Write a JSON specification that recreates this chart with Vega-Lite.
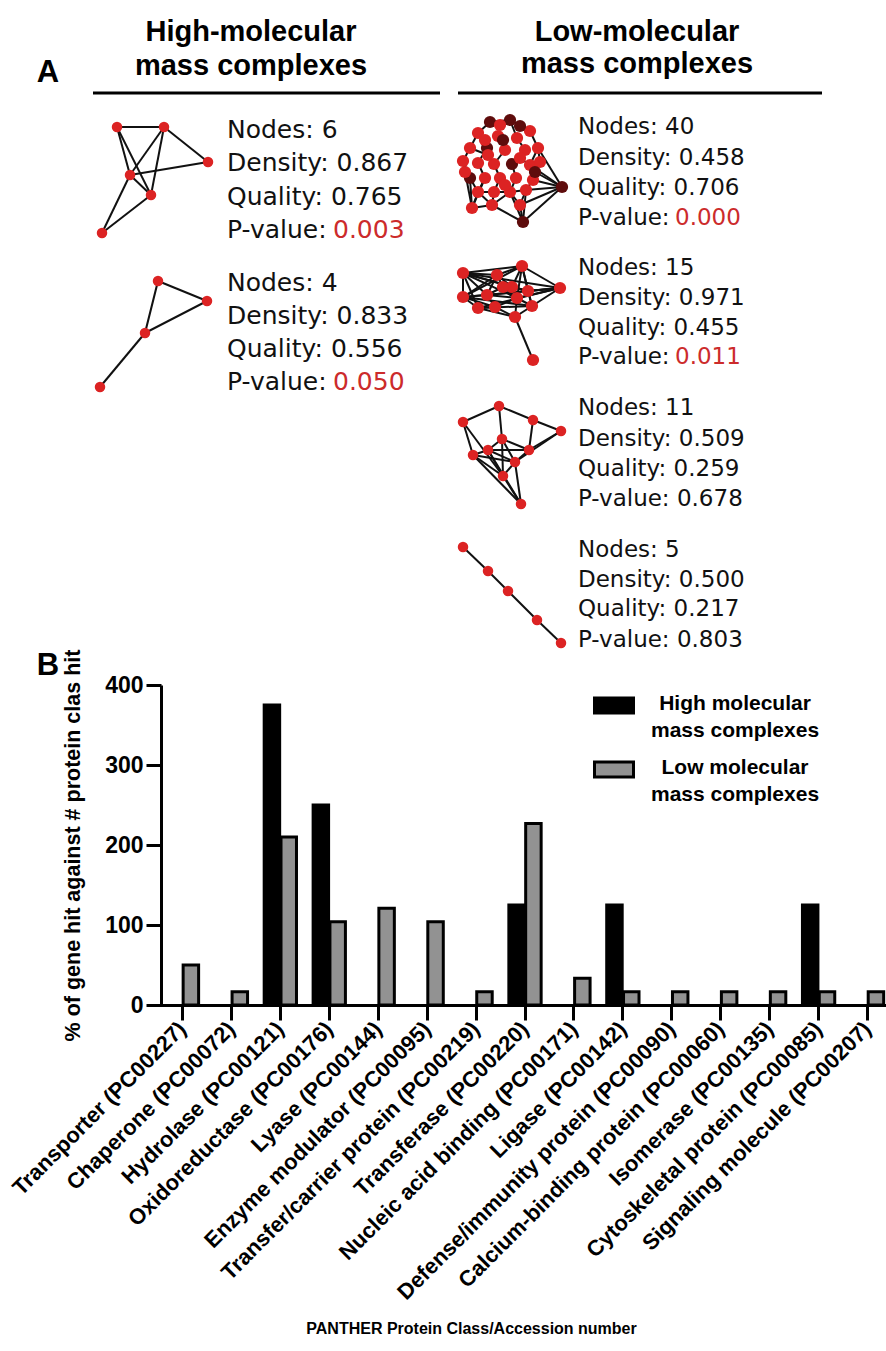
{
  "$schema": "https://vega.github.io/schema/vega-lite/v6.json",
  "width": 886,
  "height": 1351,
  "autosize": {"type": "none"},
  "padding": 0,
  "background": "white",
  "config": {
    "view": {"stroke": null},
    "font": "Liberation Sans",
    "style": {"guide-label": {"lineHeight": 27}}
  },
  "datasets": {
    "letters": [
      {"t": "A", "x": 48, "y": 73},
      {"t": "B", "x": 48, "y": 666}
    ],
    "heads": [
      {"t": "High-molecular", "x": 251, "y": 32},
      {"t": "mass complexes", "x": 251, "y": 66},
      {"t": "Low-molecular", "x": 637, "y": 32},
      {"t": "mass complexes", "x": 637, "y": 64}
    ],
    "underlines": [
      {"x1": 93, "x2": 440, "y": 93},
      {"x1": 458, "x2": 822, "y": 93}
    ],
    "stats": [
      {"col": "H", "x": 227, "y": 130, "line": "Nodes: 6", "lab": "Nodes:", "val": "6", "red": false},
      {"col": "H", "x": 227, "y": 163, "line": "Density: 0.867", "lab": "Density:", "val": "0.867", "red": false},
      {"col": "H", "x": 227, "y": 197, "line": "Quality: 0.765", "lab": "Quality:", "val": "0.765", "red": false},
      {"col": "H", "x": 227, "y": 230, "line": "P-value: 0.003", "lab": "P-value:", "val": "0.003", "red": true},
      {"col": "H", "x": 227, "y": 283, "line": "Nodes: 4", "lab": "Nodes:", "val": "4", "red": false},
      {"col": "H", "x": 227, "y": 316, "line": "Density: 0.833", "lab": "Density:", "val": "0.833", "red": false},
      {"col": "H", "x": 227, "y": 349, "line": "Quality: 0.556", "lab": "Quality:", "val": "0.556", "red": false},
      {"col": "H", "x": 227, "y": 382, "line": "P-value: 0.050", "lab": "P-value:", "val": "0.050", "red": true},
      {"col": "L", "x": 578, "y": 127, "line": "Nodes: 40", "lab": "Nodes:", "val": "40", "red": false},
      {"col": "L", "x": 578, "y": 158, "line": "Density: 0.458", "lab": "Density:", "val": "0.458", "red": false},
      {"col": "L", "x": 578, "y": 188, "line": "Quality: 0.706", "lab": "Quality:", "val": "0.706", "red": false},
      {"col": "L", "x": 578, "y": 218, "line": "P-value: 0.000", "lab": "P-value:", "val": "0.000", "red": true},
      {"col": "L", "x": 578, "y": 268, "line": "Nodes: 15", "lab": "Nodes:", "val": "15", "red": false},
      {"col": "L", "x": 578, "y": 298, "line": "Density: 0.971", "lab": "Density:", "val": "0.971", "red": false},
      {"col": "L", "x": 578, "y": 328, "line": "Quality: 0.455", "lab": "Quality:", "val": "0.455", "red": false},
      {"col": "L", "x": 578, "y": 357, "line": "P-value: 0.011", "lab": "P-value:", "val": "0.011", "red": true},
      {"col": "L", "x": 578, "y": 408, "line": "Nodes: 11", "lab": "Nodes:", "val": "11", "red": false},
      {"col": "L", "x": 578, "y": 439, "line": "Density: 0.509", "lab": "Density:", "val": "0.509", "red": false},
      {"col": "L", "x": 578, "y": 469, "line": "Quality: 0.259", "lab": "Quality:", "val": "0.259", "red": false},
      {"col": "L", "x": 578, "y": 499, "line": "P-value: 0.678", "lab": "P-value:", "val": "0.678", "red": false},
      {"col": "L", "x": 578, "y": 550, "line": "Nodes: 5", "lab": "Nodes:", "val": "5", "red": false},
      {"col": "L", "x": 578, "y": 580, "line": "Density: 0.500", "lab": "Density:", "val": "0.500", "red": false},
      {"col": "L", "x": 578, "y": 609, "line": "Quality: 0.217", "lab": "Quality:", "val": "0.217", "red": false},
      {"col": "L", "x": 578, "y": 640, "line": "P-value: 0.803", "lab": "P-value:", "val": "0.803", "red": false}
    ],
    "nodes": [
      {"id": "h1a", "g": "small", "x": 117, "y": 127, "tone": "r"},
      {"id": "h1b", "g": "small", "x": 164, "y": 127, "tone": "r"},
      {"id": "h1c", "g": "small", "x": 208, "y": 162, "tone": "r"},
      {"id": "h1d", "g": "small", "x": 130, "y": 175, "tone": "r"},
      {"id": "h1e", "g": "small", "x": 151, "y": 195, "tone": "r"},
      {"id": "h1f", "g": "small", "x": 102, "y": 233, "tone": "r"},
      {"id": "h2a", "g": "small", "x": 158, "y": 281, "tone": "r"},
      {"id": "h2b", "g": "small", "x": 207, "y": 301, "tone": "r"},
      {"id": "h2c", "g": "small", "x": 145, "y": 333, "tone": "r"},
      {"id": "h2d", "g": "small", "x": 100, "y": 387, "tone": "r"},
      {"id": "p1", "g": "dense", "x": 490, "y": 122, "tone": "d"},
      {"id": "p2", "g": "dense", "x": 510, "y": 120, "tone": "d"},
      {"id": "p3", "g": "dense", "x": 530, "y": 131, "tone": "r"},
      {"id": "p4", "g": "dense", "x": 478, "y": 133, "tone": "r"},
      {"id": "p5", "g": "dense", "x": 498, "y": 136, "tone": "r"},
      {"id": "p6", "g": "dense", "x": 517, "y": 138, "tone": "r"},
      {"id": "p7", "g": "dense", "x": 470, "y": 148, "tone": "r"},
      {"id": "p8", "g": "dense", "x": 487, "y": 148, "tone": "d"},
      {"id": "p9", "g": "dense", "x": 505, "y": 150, "tone": "r"},
      {"id": "p10", "g": "dense", "x": 525, "y": 150, "tone": "r"},
      {"id": "p11", "g": "dense", "x": 538, "y": 148, "tone": "r"},
      {"id": "p12", "g": "dense", "x": 463, "y": 161, "tone": "r"},
      {"id": "p13", "g": "dense", "x": 478, "y": 163, "tone": "r"},
      {"id": "p14", "g": "dense", "x": 494, "y": 164, "tone": "r"},
      {"id": "p15", "g": "dense", "x": 512, "y": 164, "tone": "d"},
      {"id": "p16", "g": "dense", "x": 530, "y": 165, "tone": "r"},
      {"id": "p17", "g": "dense", "x": 470, "y": 178, "tone": "d"},
      {"id": "p18", "g": "dense", "x": 485, "y": 178, "tone": "r"},
      {"id": "p19", "g": "dense", "x": 500, "y": 178, "tone": "r"},
      {"id": "p20", "g": "dense", "x": 516, "y": 178, "tone": "r"},
      {"id": "p21", "g": "dense", "x": 533, "y": 180, "tone": "r"},
      {"id": "p22", "g": "dense", "x": 478, "y": 192, "tone": "r"},
      {"id": "p23", "g": "dense", "x": 494, "y": 192, "tone": "r"},
      {"id": "p24", "g": "dense", "x": 510, "y": 192, "tone": "r"},
      {"id": "p25", "g": "dense", "x": 526, "y": 190, "tone": "r"},
      {"id": "p26", "g": "dense", "x": 492, "y": 205, "tone": "r"},
      {"id": "p27", "g": "dense", "x": 472, "y": 208, "tone": "r"},
      {"id": "p28", "g": "dense", "x": 520, "y": 205, "tone": "r"},
      {"id": "p29", "g": "dense", "x": 523, "y": 222, "tone": "d"},
      {"id": "p30", "g": "dense", "x": 562, "y": 187, "tone": "d"},
      {"id": "p31", "g": "dense", "x": 503, "y": 140, "tone": "d"},
      {"id": "p32", "g": "dense", "x": 520, "y": 126, "tone": "d"},
      {"id": "p33", "g": "dense", "x": 485, "y": 140, "tone": "r"},
      {"id": "p34", "g": "dense", "x": 540, "y": 162, "tone": "r"},
      {"id": "p35", "g": "dense", "x": 465, "y": 172, "tone": "r"},
      {"id": "p36", "g": "dense", "x": 505, "y": 185, "tone": "r"},
      {"id": "p37", "g": "dense", "x": 488, "y": 155, "tone": "r"},
      {"id": "p38", "g": "dense", "x": 520, "y": 158, "tone": "r"},
      {"id": "p39", "g": "dense", "x": 500, "y": 125, "tone": "r"},
      {"id": "p40", "g": "dense", "x": 535, "y": 172, "tone": "d"},
      {"id": "q1", "g": "dense", "x": 463, "y": 273, "tone": "r"},
      {"id": "q2", "g": "dense", "x": 522, "y": 266, "tone": "r"},
      {"id": "q3", "g": "dense", "x": 560, "y": 288, "tone": "r"},
      {"id": "q4", "g": "dense", "x": 463, "y": 297, "tone": "r"},
      {"id": "q5", "g": "dense", "x": 497, "y": 275, "tone": "r"},
      {"id": "q6", "g": "dense", "x": 487, "y": 295, "tone": "r"},
      {"id": "q7", "g": "dense", "x": 512, "y": 287, "tone": "r"},
      {"id": "q8", "g": "dense", "x": 528, "y": 291, "tone": "r"},
      {"id": "q9", "g": "dense", "x": 478, "y": 308, "tone": "r"},
      {"id": "q10", "g": "dense", "x": 495, "y": 307, "tone": "r"},
      {"id": "q11", "g": "dense", "x": 517, "y": 298, "tone": "r"},
      {"id": "q12", "g": "dense", "x": 532, "y": 306, "tone": "r"},
      {"id": "q13", "g": "dense", "x": 515, "y": 317, "tone": "r"},
      {"id": "q14", "g": "dense", "x": 533, "y": 360, "tone": "r"},
      {"id": "q15", "g": "dense", "x": 503, "y": 287, "tone": "r"},
      {"id": "ra", "g": "small", "x": 463, "y": 422, "tone": "r"},
      {"id": "rb", "g": "small", "x": 499, "y": 406, "tone": "r"},
      {"id": "rc", "g": "small", "x": 533, "y": 420, "tone": "r"},
      {"id": "rd", "g": "small", "x": 561, "y": 431, "tone": "r"},
      {"id": "re", "g": "small", "x": 502, "y": 439, "tone": "r"},
      {"id": "rf", "g": "small", "x": 473, "y": 455, "tone": "r"},
      {"id": "rg", "g": "small", "x": 488, "y": 450, "tone": "r"},
      {"id": "rh", "g": "small", "x": 529, "y": 450, "tone": "r"},
      {"id": "ri", "g": "small", "x": 515, "y": 462, "tone": "r"},
      {"id": "rj", "g": "small", "x": 503, "y": 476, "tone": "r"},
      {"id": "rk", "g": "small", "x": 521, "y": 504, "tone": "r"},
      {"id": "s1", "g": "small", "x": 463, "y": 547, "tone": "r"},
      {"id": "s2", "g": "small", "x": 488, "y": 571, "tone": "r"},
      {"id": "s3", "g": "small", "x": 508, "y": 591, "tone": "r"},
      {"id": "s4", "g": "small", "x": 537, "y": 620, "tone": "r"},
      {"id": "s5", "g": "small", "x": 561, "y": 643, "tone": "r"}
    ],
    "edges": [
      {"s": "h1a", "t": "h1b"}, {"s": "h1b", "t": "h1c"}, {"s": "h1a", "t": "h1d"}, {"s": "h1a", "t": "h1e"},
      {"s": "h1b", "t": "h1d"}, {"s": "h1b", "t": "h1e"}, {"s": "h1d", "t": "h1c"}, {"s": "h1d", "t": "h1e"},
      {"s": "h1d", "t": "h1f"}, {"s": "h1e", "t": "h1f"},
      {"s": "h2a", "t": "h2b"}, {"s": "h2a", "t": "h2c"}, {"s": "h2b", "t": "h2c"}, {"s": "h2c", "t": "h2d"},
      {"s": "p1", "t": "p2"}, {"s": "p1", "t": "p4"}, {"s": "p2", "t": "p3"}, {"s": "p2", "t": "p6"},
      {"s": "p4", "t": "p7"}, {"s": "p5", "t": "p9"}, {"s": "p6", "t": "p10"}, {"s": "p3", "t": "p11"},
      {"s": "p7", "t": "p12"}, {"s": "p8", "t": "p13"}, {"s": "p9", "t": "p14"}, {"s": "p10", "t": "p15"},
      {"s": "p11", "t": "p16"}, {"s": "p12", "t": "p17"}, {"s": "p13", "t": "p18"}, {"s": "p14", "t": "p19"},
      {"s": "p15", "t": "p20"}, {"s": "p16", "t": "p21"}, {"s": "p18", "t": "p22"}, {"s": "p19", "t": "p23"},
      {"s": "p20", "t": "p24"}, {"s": "p21", "t": "p25"}, {"s": "p17", "t": "p35"}, {"s": "p35", "t": "p12"},
      {"s": "p1", "t": "p39"}, {"s": "p39", "t": "p2"}, {"s": "p33", "t": "p8"}, {"s": "p31", "t": "p9"},
      {"s": "p32", "t": "p3"}, {"s": "p37", "t": "p14"}, {"s": "p38", "t": "p16"}, {"s": "p34", "t": "p11"},
      {"s": "p34", "t": "p40"}, {"s": "p36", "t": "p19"}, {"s": "p36", "t": "p24"}, {"s": "p22", "t": "p23"},
      {"s": "p23", "t": "p24"}, {"s": "p24", "t": "p25"}, {"s": "p4", "t": "p33"}, {"s": "p5", "t": "p31"},
      {"s": "p7", "t": "p37"}, {"s": "p30", "t": "p21"}, {"s": "p30", "t": "p16"}, {"s": "p30", "t": "p11"},
      {"s": "p30", "t": "p25"}, {"s": "p30", "t": "p28"}, {"s": "p30", "t": "p29"}, {"s": "p30", "t": "p40"},
      {"s": "p27", "t": "p22"}, {"s": "p27", "t": "p18"}, {"s": "p27", "t": "p17"}, {"s": "p27", "t": "p26"},
      {"s": "p29", "t": "p28"}, {"s": "p29", "t": "p26"}, {"s": "p29", "t": "p24"}, {"s": "p29", "t": "p25"},
      {"s": "p26", "t": "p23"}, {"s": "p26", "t": "p24"}, {"s": "p26", "t": "p22"}, {"s": "p28", "t": "p25"},
      {"s": "p28", "t": "p24"}, {"s": "p12", "t": "p27"}, {"s": "p17", "t": "p22"},
      {"s": "q1", "t": "q2"}, {"s": "q1", "t": "q5"}, {"s": "q1", "t": "q4"}, {"s": "q1", "t": "q6"},
      {"s": "q1", "t": "q9"}, {"s": "q1", "t": "q3"}, {"s": "q1", "t": "q7"}, {"s": "q2", "t": "q3"},
      {"s": "q2", "t": "q5"}, {"s": "q2", "t": "q7"}, {"s": "q2", "t": "q8"}, {"s": "q2", "t": "q11"},
      {"s": "q2", "t": "q4"}, {"s": "q3", "t": "q4"}, {"s": "q3", "t": "q8"}, {"s": "q3", "t": "q12"},
      {"s": "q3", "t": "q11"}, {"s": "q3", "t": "q9"}, {"s": "q3", "t": "q6"}, {"s": "q4", "t": "q6"},
      {"s": "q4", "t": "q9"}, {"s": "q4", "t": "q10"}, {"s": "q4", "t": "q5"}, {"s": "q5", "t": "q6"},
      {"s": "q5", "t": "q7"}, {"s": "q5", "t": "q15"}, {"s": "q6", "t": "q10"}, {"s": "q6", "t": "q15"},
      {"s": "q7", "t": "q8"}, {"s": "q7", "t": "q11"}, {"s": "q8", "t": "q12"}, {"s": "q9", "t": "q10"},
      {"s": "q10", "t": "q11"}, {"s": "q10", "t": "q13"}, {"s": "q11", "t": "q12"}, {"s": "q11", "t": "q13"},
      {"s": "q12", "t": "q13"}, {"s": "q13", "t": "q14"}, {"s": "q15", "t": "q7"}, {"s": "q15", "t": "q11"},
      {"s": "q9", "t": "q13"}, {"s": "q6", "t": "q11"}, {"s": "q1", "t": "q11"}, {"s": "q2", "t": "q12"},
      {"s": "q4", "t": "q12"}, {"s": "q1", "t": "q8"}, {"s": "q9", "t": "q12"},
      {"s": "ra", "t": "rb"}, {"s": "rb", "t": "rc"}, {"s": "rc", "t": "rd"}, {"s": "ra", "t": "rf"},
      {"s": "ra", "t": "rj"}, {"s": "rb", "t": "re"}, {"s": "rc", "t": "rh"}, {"s": "rd", "t": "rh"},
      {"s": "rd", "t": "ri"}, {"s": "re", "t": "rg"}, {"s": "re", "t": "ri"}, {"s": "re", "t": "rh"},
      {"s": "rf", "t": "rg"}, {"s": "rg", "t": "rh"}, {"s": "rg", "t": "ri"}, {"s": "rf", "t": "rj"},
      {"s": "rg", "t": "rj"}, {"s": "ri", "t": "rj"}, {"s": "rh", "t": "ri"}, {"s": "rj", "t": "rk"},
      {"s": "ri", "t": "rk"}, {"s": "rf", "t": "rk"}, {"s": "rg", "t": "rk"}, {"s": "re", "t": "rj"},
      {"s": "rf", "t": "ri"},
      {"s": "s1", "t": "s2"}, {"s": "s2", "t": "s3"}, {"s": "s3", "t": "s4"}, {"s": "s4", "t": "s5"}
    ],
    "bars": [
      {"cat": "Transporter (PC00227)", "series": "High molecular mass complexes", "v": 0},
      {"cat": "Transporter (PC00227)", "series": "Low molecular mass complexes", "v": 50},
      {"cat": "Chaperone (PC00072)", "series": "High molecular mass complexes", "v": 0},
      {"cat": "Chaperone (PC00072)", "series": "Low molecular mass complexes", "v": 16.7},
      {"cat": "Hydrolase (PC00121)", "series": "High molecular mass complexes", "v": 375},
      {"cat": "Hydrolase (PC00121)", "series": "Low molecular mass complexes", "v": 210},
      {"cat": "Oxidoreductase (PC00176)", "series": "High molecular mass complexes", "v": 250},
      {"cat": "Oxidoreductase (PC00176)", "series": "Low molecular mass complexes", "v": 104},
      {"cat": "Lyase (PC00144)", "series": "High molecular mass complexes", "v": 0},
      {"cat": "Lyase (PC00144)", "series": "Low molecular mass complexes", "v": 121},
      {"cat": "Enzyme modulator (PC00095)", "series": "High molecular mass complexes", "v": 0},
      {"cat": "Enzyme modulator (PC00095)", "series": "Low molecular mass complexes", "v": 104},
      {"cat": "Transfer/carrier protein (PC00219)", "series": "High molecular mass complexes", "v": 0},
      {"cat": "Transfer/carrier protein (PC00219)", "series": "Low molecular mass complexes", "v": 16.7},
      {"cat": "Transferase (PC00220)", "series": "High molecular mass complexes", "v": 125},
      {"cat": "Transferase (PC00220)", "series": "Low molecular mass complexes", "v": 227},
      {"cat": "Nucleic acid binding (PC00171)", "series": "High molecular mass complexes", "v": 0},
      {"cat": "Nucleic acid binding (PC00171)", "series": "Low molecular mass complexes", "v": 33.3},
      {"cat": "Ligase (PC00142)", "series": "High molecular mass complexes", "v": 125},
      {"cat": "Ligase (PC00142)", "series": "Low molecular mass complexes", "v": 16.7},
      {"cat": "Defense/immunity protein (PC00090)", "series": "High molecular mass complexes", "v": 0},
      {"cat": "Defense/immunity protein (PC00090)", "series": "Low molecular mass complexes", "v": 16.7},
      {"cat": "Calcium-binding protein (PC00060)", "series": "High molecular mass complexes", "v": 0},
      {"cat": "Calcium-binding protein (PC00060)", "series": "Low molecular mass complexes", "v": 16.7},
      {"cat": "Isomerase (PC00135)", "series": "High molecular mass complexes", "v": 0},
      {"cat": "Isomerase (PC00135)", "series": "Low molecular mass complexes", "v": 16.7},
      {"cat": "Cytoskeletal protein (PC00085)", "series": "High molecular mass complexes", "v": 125},
      {"cat": "Cytoskeletal protein (PC00085)", "series": "Low molecular mass complexes", "v": 16.7},
      {"cat": "Signaling molecule (PC00207)", "series": "High molecular mass complexes", "v": 0},
      {"cat": "Signaling molecule (PC00207)", "series": "Low molecular mass complexes", "v": 16.7}
    ]
  },
  "layer": [
    {
      "layer": [
        {
          "data": {"name": "underlines"},
          "mark": {"type": "rule", "stroke": "#000", "strokeWidth": 3},
          "encoding": {
            "x": {"field": "x1", "type": "quantitative", "scale": {"domain": [0, 886], "nice": false, "zero": false}, "axis": null},
            "x2": {"field": "x2"},
            "y": {"field": "y", "type": "quantitative", "scale": {"domain": [0, 1351], "nice": false, "zero": false, "reverse": true}, "axis": null}
          }
        },
        {
          "data": {"name": "letters"},
          "mark": {"type": "text", "font": "Liberation Sans", "fontWeight": "bold", "fontSize": 31, "align": "center", "baseline": "middle", "color": "#000"},
          "encoding": {
            "x": {"field": "x", "type": "quantitative", "scale": {"domain": [0, 886], "nice": false, "zero": false}, "axis": null},
            "y": {"field": "y", "type": "quantitative", "scale": {"domain": [0, 1351], "nice": false, "zero": false, "reverse": true}, "axis": null},
            "text": {"field": "t"}
          }
        },
        {
          "data": {"name": "heads"},
          "mark": {"type": "text", "font": "Liberation Sans", "fontWeight": "bold", "fontSize": 29, "align": "center", "baseline": "middle", "color": "#000"},
          "encoding": {
            "x": {"field": "x", "type": "quantitative", "scale": {"domain": [0, 886], "nice": false, "zero": false}, "axis": null},
            "y": {"field": "y", "type": "quantitative", "scale": {"domain": [0, 1351], "nice": false, "zero": false, "reverse": true}, "axis": null},
            "text": {"field": "t"}
          }
        },
        {
          "data": {"name": "edges"},
          "transform": [
            {"lookup": "s", "from": {"data": {"name": "nodes"}, "key": "id", "fields": ["x", "y"]}, "as": ["sx", "sy"]},
            {"lookup": "t", "from": {"data": {"name": "nodes"}, "key": "id", "fields": ["x", "y"]}, "as": ["tx", "ty"]}
          ],
          "mark": {"type": "rule", "stroke": "#111", "strokeWidth": 2},
          "encoding": {
            "x": {"field": "sx", "type": "quantitative", "scale": {"domain": [0, 886], "nice": false, "zero": false}, "axis": null},
            "y": {"field": "sy", "type": "quantitative", "scale": {"domain": [0, 1351], "nice": false, "zero": false, "reverse": true}, "axis": null},
            "x2": {"field": "tx"},
            "y2": {"field": "ty"}
          }
        },
        {
          "data": {"name": "nodes"},
          "transform": [{"filter": "datum.g == 'small'"}],
          "mark": {"type": "circle", "size": 110, "opacity": 1},
          "encoding": {
            "x": {"field": "x", "type": "quantitative", "scale": {"domain": [0, 886], "nice": false, "zero": false}, "axis": null},
            "y": {"field": "y", "type": "quantitative", "scale": {"domain": [0, 1351], "nice": false, "zero": false, "reverse": true}, "axis": null},
            "color": {"field": "tone", "type": "nominal", "scale": {"domain": ["r", "d"], "range": ["#dc2323", "#5e0c0c"]}, "legend": null}
          }
        },
        {
          "data": {"name": "nodes"},
          "transform": [{"filter": "datum.g == 'dense'"}],
          "mark": {"type": "circle", "size": 150, "opacity": 1},
          "encoding": {
            "x": {"field": "x", "type": "quantitative", "scale": {"domain": [0, 886], "nice": false, "zero": false}, "axis": null},
            "y": {"field": "y", "type": "quantitative", "scale": {"domain": [0, 1351], "nice": false, "zero": false, "reverse": true}, "axis": null},
            "color": {"field": "tone", "type": "nominal", "scale": {"domain": ["r", "d"], "range": ["#dc2323", "#5e0c0c"]}, "legend": null}
          }
        },
        {
          "data": {"name": "stats"},
          "transform": [{"filter": "datum.col == 'H'"}],
          "mark": {"type": "text", "font": "DejaVu Sans", "fontSize": 25, "align": "left", "baseline": "middle", "color": "#111"},
          "encoding": {
            "x": {"field": "x", "type": "quantitative", "scale": {"domain": [0, 886], "nice": false, "zero": false}, "axis": null},
            "y": {"field": "y", "type": "quantitative", "scale": {"domain": [0, 1351], "nice": false, "zero": false, "reverse": true}, "axis": null},
            "text": {"condition": {"test": "datum.red", "field": "lab"}, "field": "line"}
          }
        },
        {
          "data": {"name": "stats"},
          "transform": [{"filter": "datum.col == 'H' && datum.red"}],
          "mark": {"type": "text", "font": "DejaVu Sans", "fontSize": 25, "align": "left", "baseline": "middle", "color": "#cc2b2b", "dx": 106},
          "encoding": {
            "x": {"field": "x", "type": "quantitative", "scale": {"domain": [0, 886], "nice": false, "zero": false}, "axis": null},
            "y": {"field": "y", "type": "quantitative", "scale": {"domain": [0, 1351], "nice": false, "zero": false, "reverse": true}, "axis": null},
            "text": {"field": "val"}
          }
        },
        {
          "data": {"name": "stats"},
          "transform": [{"filter": "datum.col == 'L'"}],
          "mark": {"type": "text", "font": "DejaVu Sans", "fontSize": 23, "align": "left", "baseline": "middle", "color": "#111"},
          "encoding": {
            "x": {"field": "x", "type": "quantitative", "scale": {"domain": [0, 886], "nice": false, "zero": false}, "axis": null},
            "y": {"field": "y", "type": "quantitative", "scale": {"domain": [0, 1351], "nice": false, "zero": false, "reverse": true}, "axis": null},
            "text": {"condition": {"test": "datum.red", "field": "lab"}, "field": "line"}
          }
        },
        {
          "data": {"name": "stats"},
          "transform": [{"filter": "datum.col == 'L' && datum.red"}],
          "mark": {"type": "text", "font": "DejaVu Sans", "fontSize": 23, "align": "left", "baseline": "middle", "color": "#cc2b2b", "dx": 97},
          "encoding": {
            "x": {"field": "x", "type": "quantitative", "scale": {"domain": [0, 886], "nice": false, "zero": false}, "axis": null},
            "y": {"field": "y", "type": "quantitative", "scale": {"domain": [0, 1351], "nice": false, "zero": false, "reverse": true}, "axis": null},
            "text": {"field": "val"}
          }
        }
      ]
    },
    {
      "data": {"name": "bars"},
      "transform": [{"filter": "datum.v > 0"}],
      "mark": {"type": "bar", "stroke": "#000", "strokeWidth": 3},
      "encoding": {
        "x": {
          "field": "cat", "type": "nominal", "sort": null,
          "scale": {"range": [158, 892], "paddingInner": 0.34, "paddingOuter": 0.17},
          "axis": {
            "orient": "bottom", "offset": -346,
            "title": "PANTHER Protein Class/Accession number",
            "titleFont": "Liberation Sans", "titleFontWeight": "bold", "titleFontSize": 16, "titleColor": "#000",
            "titleX": 471, "titleY": 323, "titleAlign": "center", "titleBaseline": "middle",
            "labelAngle": -45, "labelAlign": "right", "labelBaseline": "middle",
            "labelFont": "Liberation Sans", "labelFontWeight": "bold", "labelFontSize": 22, "labelColor": "#000",
            "labelLimit": 0, "labelOverlap": false, "labelBound": false, "labelPadding": 5,
            "tickSize": 15, "tickWidth": 3, "tickColor": "#000",
            "domainWidth": 3, "domainColor": "#000", "grid": false
          }
        },
        "xOffset": {"field": "series", "type": "nominal", "sort": null, "scale": {"domain": ["High molecular mass complexes", "Low molecular mass complexes"], "paddingInner": 0.08}},
        "y": {
          "field": "v", "type": "quantitative",
          "scale": {"domain": [0, 400], "range": [1005, 685], "nice": false, "zero": true},
          "axis": {
            "orient": "left", "offset": -161, "values": [0, 100, 200, 300, 400],
            "title": "% of gene hit against # protein clas hit",
            "titleFont": "Liberation Sans", "titleFontWeight": "bold", "titleFontSize": 21.5, "titleColor": "#000", "titlePadding": 20,
            "labelFont": "Liberation Sans", "labelFontWeight": "bold", "labelFontSize": 23, "labelColor": "#000", "labelPadding": 3,
            "tickSize": 15, "tickWidth": 3, "tickColor": "#000",
            "domainWidth": 3, "domainColor": "#000", "grid": false
          }
        },
        "color": {
          "field": "series", "type": "nominal", "sort": null,
          "scale": {"domain": ["High molecular mass complexes", "Low molecular mass complexes"], "range": ["#000000", "#929292"]},
          "legend": {
            "orient": "none", "legendX": 593, "legendY": 683, "title": null, "direction": "vertical",
            "symbolType": "M-1,-0.31H1V0.46H-1Z", "symbolSize": 1521,
            "symbolStrokeColor": "#000", "symbolStrokeWidth": 3, "symbolOpacity": 1,
            "labelExpr": "datum.label == 'High molecular mass complexes' ? ['High molecular', 'mass complexes'] : ['Low molecular', 'mass complexes']",
            "labelAlign": "center", "labelBaseline": "middle", "labelOffset": 100,
            "labelFont": "Liberation Sans", "labelFontWeight": "bold", "labelFontSize": 21, "labelColor": "#000",
            "labelLimit": 0, "rowPadding": 6, "padding": 0
          }
        }
      }
    }
  ],
  "resolve": {"scale": {"x": "independent", "y": "independent", "color": "independent"}}
}
